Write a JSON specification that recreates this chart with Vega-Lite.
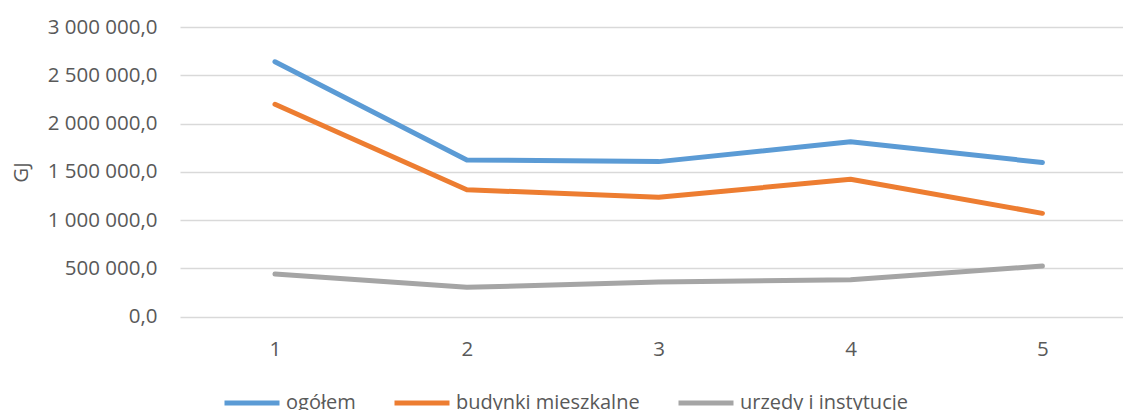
{
  "$schema": "https://vega.github.io/schema/vega-lite/v6.json",
  "autosize": {"type": "none"},
  "width": 943,
  "height": 289.5,
  "padding": {"left": 180, "top": 27, "right": 0, "bottom": 93.5},
  "config": {
    "locale": {"number": {"decimal": ",", "thousands": " ", "grouping": [3], "currency": ["", " zł"]}},
    "view": {"stroke": null},
    "font": "Open Sans"
  },
  "data": {
    "values": [
      {"x": 1, "seria": "ogółem", "v": 2640000},
      {"x": 2, "seria": "ogółem", "v": 1622000},
      {"x": 3, "seria": "ogółem", "v": 1605000},
      {"x": 4, "seria": "ogółem", "v": 1810000},
      {"x": 5, "seria": "ogółem", "v": 1596000},
      {"x": 1, "seria": "budynki mieszkalne", "v": 2199000},
      {"x": 2, "seria": "budynki mieszkalne", "v": 1314000},
      {"x": 3, "seria": "budynki mieszkalne", "v": 1235000},
      {"x": 4, "seria": "budynki mieszkalne", "v": 1422000},
      {"x": 5, "seria": "budynki mieszkalne", "v": 1069000},
      {"x": 1, "seria": "urzędy i instytucje", "v": 440000},
      {"x": 2, "seria": "urzędy i instytucje", "v": 302000},
      {"x": 3, "seria": "urzędy i instytucje", "v": 357000},
      {"x": 4, "seria": "urzędy i instytucje", "v": 382000},
      {"x": 5, "seria": "urzędy i instytucje", "v": 523000}
    ]
  },
  "mark": {"type": "line", "strokeWidth": 5, "strokeCap": "round", "strokeJoin": "round"},
  "encoding": {
    "x": {
      "field": "x", "type": "quantitative",
      "scale": {"domain": [0.505, 5.42], "nice": false, "zero": false},
      "axis": {"values": [1, 2, 3, 4, 5], "format": "d", "title": null, "grid": false, "domain": false, "ticks": false,
        "labelPadding": 23, "labelFontSize": 20.5, "labelColor": "#595959"}
    },
    "y": {
      "field": "v", "type": "quantitative",
      "scale": {"domain": [0, 3000000], "nice": false},
      "axis": {"values": [0, 500000, 1000000, 1500000, 2000000, 2500000, 3000000], "format": ",.1f",
        "title": "GJ", "titleFontSize": 20.5, "titleFontWeight": "normal", "titleColor": "#595959",
        "titleX": -159, "titleY": 145, "titleAlign": "center", "titleBaseline": "middle", "titleAngle": -90,
        "grid": true, "gridColor": "#D9D9D9", "gridWidth": 1.5, "domain": false, "ticks": false,
        "labelPadding": 23, "labelFontSize": 20.5, "labelColor": "#595959"}
    },
    "color": {
      "field": "seria", "type": "nominal",
      "scale": {"domain": ["ogółem", "budynki mieszkalne", "urzędy i instytucje"], "range": ["#5B9BD5", "#ED7D31", "#A5A5A5"]},
      "legend": {"title": null, "orient": "none", "direction": "horizontal", "legendX": 42, "legendY": 346,
        "symbolType": "stroke", "symbolSize": 3025, "symbolStrokeWidth": 5, "labelFontSize": 20, "labelColor": "#595959",
        "labelOffset": 4, "labelLimit": 0, "columnPadding": 28}
    }
  }
}
